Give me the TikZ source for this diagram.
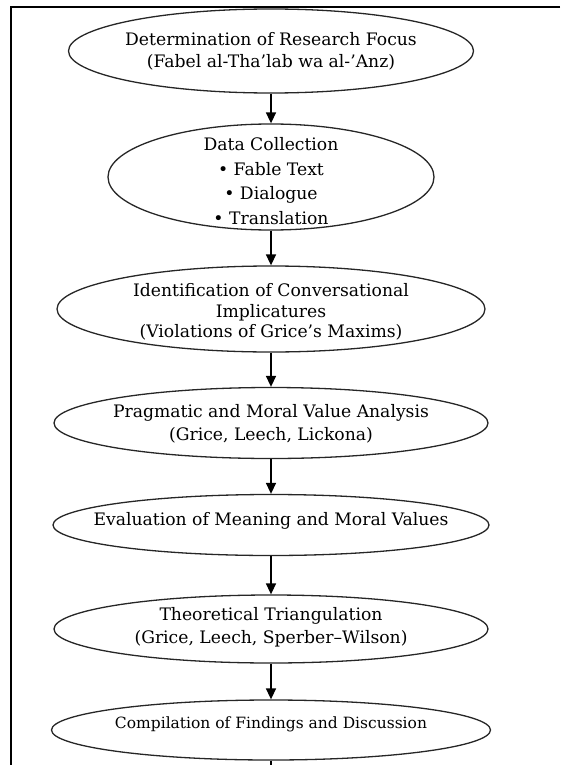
\documentclass[tikz,border=0pt]{standalone}
\usepackage{fontspec}
\setmainfont{DejaVu Serif}
\usetikzlibrary{shapes.geometric,arrows.meta}
\tikzset{
  stage/.style={ellipse, draw=black!85, line width=1.3pt, inner sep=0pt},
  txt/.style={align=center, inner sep=0pt, font=\fontsize{17.2}{22}\selectfont},
  flow/.style={line width=1.5pt, -{Triangle[length=11pt,width=10pt]}},
  frame/.style={line width=2pt}
}
\begin{document}
\begin{tikzpicture}[x=1pt,y=-1pt]
\useasboundingbox (0,0) rectangle (560,765);
\coordinate (ftl) at (11,7);
\coordinate (ftr) at (560,7);
\coordinate (fbl) at (11,765);
\draw[frame] (ftr) -- (ftl) -- (fbl);

\node[stage, minimum width=405pt, minimum height=84pt] (e1) at (271,51) {};
\node[txt] (t1) at (271,51) {Determination of Research Focus\\(Fabel al-Tha’lab wa al-’Anz)};

\node[stage, minimum width=326pt, minimum height=106pt] (e2) at (271,177) {};
\node[txt, font=\fontsize{17.2}{24.5}\selectfont] (t2) at (271,181) {Data Collection\\• Fable Text\\• Dialogue\\• Translation};

\node[stage, minimum width=428pt, minimum height=86pt] (e3) at (271,309) {};
\node[txt, font=\fontsize{17.2}{20.5}\selectfont] (t3) at (271,312) {Identification of Conversational\\Implicatures\\(Violations of Grice’s Maxims)};

\node[stage, minimum width=434pt, minimum height=71pt] (e4) at (271,423) {};
\node[txt, font=\fontsize{17.2}{23}\selectfont] (t4) at (271,424) {Pragmatic and Moral Value Analysis\\(Grice, Leech, Lickona)};

\node[stage, minimum width=436pt, minimum height=61pt] (e5) at (271,525) {};
\node[txt] (t5) at (271,521) {Evaluation of Meaning and Moral Values};

\node[stage, minimum width=434pt, minimum height=68pt] (e6) at (271,629) {};
\node[txt, font=\fontsize{17.2}{23}\selectfont] (t6) at (271,627) {Theoretical Triangulation\\(Grice, Leech, Sperber--Wilson)};

\node[stage, minimum width=439pt, minimum height=60pt] (e7) at (271,730) {};
\node[txt, font=\fontsize{15.5}{20}\selectfont] (t7) at (271,724) {Compilation of Findings and Discussion};

\coordinate (bot) at (271,765);

\draw[flow] (e1.south) -- (e2.north);
\draw[flow] (e2.south) -- (e3.north);
\draw[flow] (e3.south) -- (e4.north);
\draw[flow] (e4.south) -- (e5.north);
\draw[flow] (e5.south) -- (e6.north);
\draw[flow] (e6.south) -- (e7.north);
\draw[line width=1.5pt] (e7.south) -- (bot);
\end{tikzpicture}
\end{document}
